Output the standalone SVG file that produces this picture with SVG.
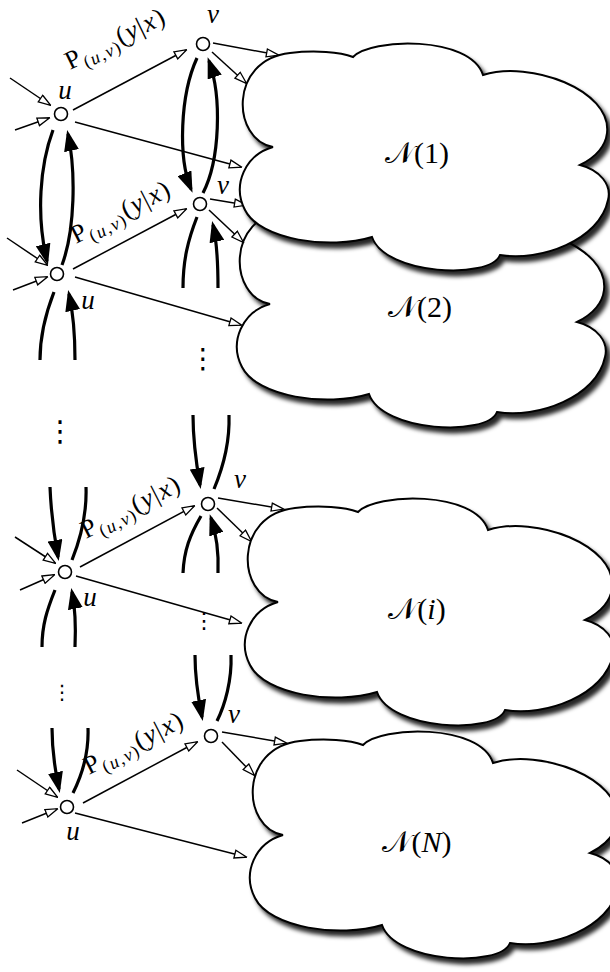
<svg xmlns="http://www.w3.org/2000/svg" xmlns:xlink="http://www.w3.org/1999/xlink" width="610" height="972" viewBox="0 0 610 972">
  <style>
    .thin { fill: none; stroke: #000; stroke-width: 1.5; marker-end: url(#open); }
    .thick { fill: none; stroke: #000; stroke-width: 3.2; stroke-linecap: butt; }
    .thick.arr { marker-end: url(#solid); }
    .node { fill: #fff; stroke: #000; stroke-width: 1.6; }
    .cloud { fill: #fff; stroke: #000; stroke-width: 2; filter: url(#shadow); }
    .lbl { font-family: "Liberation Serif", "DejaVu Serif", serif; font-style: italic; font-size: 27px; fill: #000; text-anchor: middle; }
    .pl { font-family: "Liberation Serif", "DejaVu Serif", serif; font-size: 26px; fill: #000; letter-spacing: 1.4px; }
    .sub { font-size: 18px; }
    .it { font-style: italic; }
    .net { font-family: "Liberation Serif", "DejaVu Serif", "DejaVu Sans", serif; font-size: 30px; fill: #000; text-anchor: middle; }
    .dots { font-family: "Noto Sans CJK JP", "DejaVu Sans", sans-serif; fill: #000; text-anchor: middle; }
  </style>
  <defs>
    <marker id="open" viewBox="0 0 14 10" refX="12.5" refY="5" markerWidth="14" markerHeight="10" markerUnits="userSpaceOnUse" orient="auto">
      <path d="M1,1 L13.3,5 L1,9 Z" fill="#fff" stroke="#000" stroke-width="1.3"/>
    </marker>
    <marker id="solid" viewBox="0 0 21 15" refX="17" refY="7.5" markerWidth="21" markerHeight="15" markerUnits="userSpaceOnUse" orient="auto">
      <path d="M0,0 L21,7.5 L0,15 Z" fill="#000"/>
    </marker>
    <filter id="shadow" x="-10%" y="-10%" width="130%" height="130%">
      <feGaussianBlur in="SourceAlpha" stdDeviation="2.2"/>
      <feOffset dx="4" dy="5" result="blur"/>
      <feFlood flood-color="#000" flood-opacity="0.85"/>
      <feComposite in2="blur" operator="in"/>
      <feMerge>
        <feMergeNode/>
        <feMergeNode in="SourceGraphic"/>
      </feMerge>
    </filter>
    <!-- network cloud outline, drawn at the position of N(1) -->
    <path id="cloud" d="M273,147 C232,140 228,60 290,53 C315,50 340,52 353,57 C370,38 470,35 483,75 C530,60 612,90 607,133 C605,150 590,160 580,165 C600,170 612,185 608,200 C600,240 540,262 500,255 C490,280 385,275 372,237 C330,250 260,240 245,210 C232,185 245,155 273,147 Z"/>
  </defs>

  <rect width="610" height="972" fill="#fff"/>

  <!-- N(2) lies underneath N(1) -->
  <g id="net-2">
    <use xlink:href="#cloud" class="cloud" transform="translate(-3,157)"/>
    <text class="net" x="420" y="317">𝒩(2)</text>
  </g>

  <g id="connectors">
    <!-- stage 1 -->
    <path class="thin" d="M10,78 L50,105"/>
    <path class="thin" d="M15,130 L49,118"/>
    <path class="thin" d="M73,110 L186,50"/>
    <path class="thin" d="M75,122 L241,167"/>
    <path class="thin" d="M213,43 L278,55"/>
    <path class="thin" d="M212,52 L246,83"/>
    <path class="thick arr" d="M53,130 C40,165 36,215 47,261"/>
    <path class="thick arr" d="M62,265 C75,230 76,172 68,134"/>
    <path class="thick arr" d="M197,58 C180,95 178,158 191,189"/>
    <path class="thick arr" d="M203,193 C220,160 222,97 209,61"/>
    <!-- stage 2 -->
    <path class="thin" d="M7,238 L47,265"/>
    <path class="thin" d="M13,290 L47,277"/>
    <path class="thin" d="M73,269 L186,209"/>
    <path class="thin" d="M75,277 L241,325"/>
    <path class="thin" d="M210,199 L246,205"/>
    <path class="thin" d="M209,210 L243,242"/>
    <path class="thick" d="M54,292 C45,315 40,335 40,360"/>
    <path class="thick arr" d="M75,360 C75,332 73,312 69,294"/>
    <path class="thick" d="M197,217 C188,240 183,260 183,288"/>
    <path class="thick arr" d="M218,288 C218,265 217,242 213,225"/>
    <!-- stage i -->
    <path class="thin" d="M15,537 L55,563"/>
    <path class="thin" d="M20,590 L54,575"/>
    <path class="thin" d="M80,567 L194,506"/>
    <path class="thin" d="M76,576 L241,623"/>
    <path class="thin" d="M218,498 L283,509"/>
    <path class="thin" d="M217,508 L251,541"/>
    <path class="thick arr" d="M50,487 C51,512 54,535 58,557"/>
    <path class="thick" d="M86,487 C87,515 80,540 72,560"/>
    <path class="thick" d="M55,590 C47,610 42,625 42,647"/>
    <path class="thick arr" d="M75,647 C76,625 75,607 72,592"/>
    <path class="thick arr" d="M193,415 C193,440 196,462 200,485"/>
    <path class="thick" d="M229,415 C230,445 222,470 214,489"/>
    <path class="thick" d="M201,516 C190,535 184,550 183,573"/>
    <path class="thick arr" d="M218,573 C219,550 216,533 211,518"/>
    <!-- stage N -->
    <path class="thin" d="M17,770 L57,797"/>
    <path class="thin" d="M22,823 L57,809"/>
    <path class="thin" d="M83,803 L197,742"/>
    <path class="thin" d="M75,813 L246,857"/>
    <path class="thin" d="M222,732 L286,743"/>
    <path class="thin" d="M222,742 L254,775"/>
    <path class="thick arr" d="M52,728 C52,752 55,770 59,789"/>
    <path class="thick" d="M88,728 C89,755 82,775 73,793"/>
    <path class="thick arr" d="M195,655 C195,678 198,697 202,717"/>
    <path class="thick" d="M231,655 C232,680 225,705 217,721"/>
  </g>

  <!-- edge labels -->
  <g id="edge-labels">
    <text class="pl" transform="translate(70,70) rotate(-26)">P<tspan class="sub" dy="6">(<tspan class="it">u</tspan>,<tspan class="it">v</tspan>)</tspan><tspan dy="-6">(<tspan class="it">y</tspan>|<tspan class="it">x</tspan>)</tspan></text>
    <text class="pl" transform="translate(76,244) rotate(-27)">P<tspan class="sub" dy="6">(<tspan class="it">u</tspan>,<tspan class="it">v</tspan>)</tspan><tspan dy="-6">(<tspan class="it">y</tspan>|<tspan class="it">x</tspan>)</tspan></text>
    <text class="pl" transform="translate(86,539) rotate(-27)">P<tspan class="sub" dy="6">(<tspan class="it">u</tspan>,<tspan class="it">v</tspan>)</tspan><tspan dy="-6">(<tspan class="it">y</tspan>|<tspan class="it">x</tspan>)</tspan></text>
    <text class="pl" transform="translate(89,775) rotate(-27)">P<tspan class="sub" dy="6">(<tspan class="it">u</tspan>,<tspan class="it">v</tspan>)</tspan><tspan dy="-6">(<tspan class="it">y</tspan>|<tspan class="it">x</tspan>)</tspan></text>
  </g>

  <!-- relay nodes -->
  <g id="u-1"><circle class="node" cx="61" cy="114" r="6.5"/><text class="lbl" x="65" y="99">u</text></g>
  <g id="v-1"><circle class="node" cx="203" cy="44" r="6.5"/><text class="lbl" x="213" y="23">v</text></g>
  <g id="u-2"><circle class="node" cx="57" cy="274" r="6.5"/><text class="lbl" x="88" y="309">u</text></g>
  <g id="v-2"><circle class="node" cx="200" cy="204" r="6.5"/><text class="lbl" x="223" y="194">v</text></g>
  <g id="u-i"><circle class="node" cx="65" cy="572" r="6.5"/><text class="lbl" x="90" y="606">u</text></g>
  <g id="v-i"><circle class="node" cx="208" cy="504" r="6.5"/><text class="lbl" x="240" y="488">v</text></g>
  <g id="u-N"><circle class="node" cx="67" cy="807" r="6.5"/><text class="lbl" x="73" y="840">u</text></g>
  <g id="v-N"><circle class="node" cx="211" cy="736" r="6.5"/><text class="lbl" x="234" y="723">v</text></g>

  <!-- vertical ellipses -->
  <g id="ellipses">
    <text class="dots" x="203" y="368" font-size="28">⋮</text>
    <text class="dots" x="60" y="441" font-size="29">⋮</text>
    <text class="dots" x="204" y="628" font-size="22">⋮</text>
    <text class="dots" x="62" y="699" font-size="20">⋮</text>
  </g>

  <g id="net-1">
    <use xlink:href="#cloud" class="cloud"/>
    <text class="net" x="417" y="163">𝒩(1)</text>
  </g>
  <g id="net-i">
    <use xlink:href="#cloud" class="cloud" transform="translate(5,455)"/>
    <text class="net" x="417" y="619">𝒩(<tspan font-style="italic">i</tspan>)</text>
  </g>
  <g id="net-N">
    <use xlink:href="#cloud" class="cloud" transform="translate(10,688)"/>
    <text class="net" x="417" y="852">𝒩(<tspan font-style="italic">N</tspan>)</text>
  </g>
</svg>
